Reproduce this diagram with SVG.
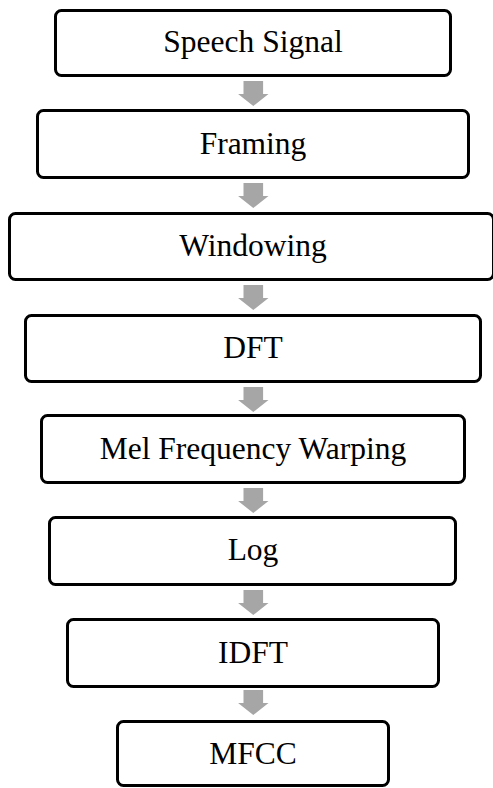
<svg xmlns="http://www.w3.org/2000/svg" width="493" height="788" viewBox="0 0 493 788">
  <defs>
    <style>
      .box { fill: #ffffff; stroke: #000000; stroke-width: 3; }
      .label { font-family: "Liberation Serif", "Times New Roman", serif; font-size: 31.5px; fill: #000000; text-anchor: middle; }
      .flow { fill: #a6a6a6; stroke: none; }
    </style>
    <!-- block arrow pointing down, origin at top centre of the shaft -->
    <path id="down" d="M -9.8 0 H 9.8 V 13 H 15.2 L 0 25 L -15.2 13 H -9.8 Z"/>
  </defs>
  <rect width="493" height="788" fill="#ffffff"/>

  <g id="connectors" class="flow">
    <use href="#down" x="253.3" y="81"/>
    <use href="#down" x="253.3" y="183"/>
    <use href="#down" x="253.3" y="285"/>
    <use href="#down" x="253.3" y="387"/>
    <use href="#down" x="253.3" y="488"/>
    <use href="#down" x="253.3" y="590"/>
    <use href="#down" x="253.3" y="690"/>
  </g>

  <g id="speech-signal">
    <rect class="box" x="55.5" y="10.5" width="395" height="65" rx="6"/>
    <text class="label" x="253" y="52">Speech Signal</text>
  </g>
  <g id="framing">
    <rect class="box" x="37.5" y="110.5" width="431" height="67" rx="6"/>
    <text class="label" x="253" y="154">Framing</text>
  </g>
  <g id="windowing">
    <rect class="box" x="9.5" y="213.5" width="484" height="66" rx="6"/>
    <text class="label" x="253" y="256">Windowing</text>
  </g>
  <g id="dft">
    <rect class="box" x="25.5" y="315.5" width="455" height="66" rx="6"/>
    <text class="label" x="253" y="358">DFT</text>
  </g>
  <g id="mel-warping">
    <rect class="box" x="41.5" y="415.5" width="423" height="67" rx="6"/>
    <text class="label" x="253" y="459">Mel Frequency Warping</text>
  </g>
  <g id="log">
    <rect class="box" x="49.5" y="517.5" width="406" height="67" rx="6"/>
    <text class="label" x="253" y="560">Log</text>
  </g>
  <g id="idft">
    <rect class="box" x="67.5" y="619.5" width="371" height="67" rx="6"/>
    <text class="label" x="253" y="663">IDFT</text>
  </g>
  <g id="mfcc">
    <rect class="box" x="117.5" y="721.5" width="271" height="64" rx="6"/>
    <text class="label" x="253" y="764">MFCC</text>
  </g>
</svg>
